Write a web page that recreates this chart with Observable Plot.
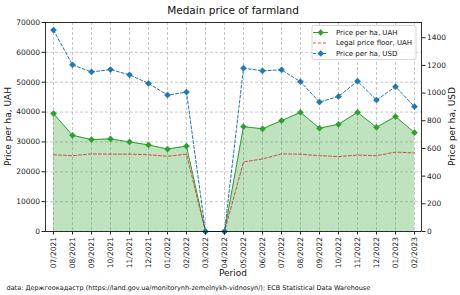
<!DOCTYPE html>
<html><head><meta charset="utf-8">
<script src="https://cdn.jsdelivr.net/npm/d3@7"></script>
<script src="https://cdn.jsdelivr.net/npm/@observablehq/plot@0.6"></script>
<style>
body{margin:0;background:#fff}
#c{position:relative;width:460px;height:295px}
#c svg{font-family:"DejaVu Sans",sans-serif}
#legend{position:absolute;left:0;top:0}
</style>
</head><body><div id="c"></div>
<script>
const periods = ["07/2021","08/2021","09/2021","10/2021","11/2021","12/2021","01/2022","02/2022","03/2022","04/2022","05/2022","06/2022","07/2022","08/2022","09/2022","10/2022","11/2022","12/2022","01/2023","02/2023"];
const priceUAH = [39500,32200,30800,31000,30000,29000,27600,28600,0,0,35100,34400,37100,39900,34600,35900,39900,34900,38500,33100];
const floorUAH = [25700,25400,26000,25900,25900,25700,25200,25900,0,0,23300,24300,26000,25900,25400,25100,25600,25400,26600,26300];
const priceUSD = [1455,1204,1153,1170,1132,1070,986,1007,0,0,1180,1161,1168,1082,935,976,1086,950,1046,902];
const uahTicks = [0,10000,20000,30000,40000,50000,60000,70000];
const usdTicks = [0,200,400,600,800,1000,1200,1400];
const title = "Medain price of farmland";
const xLabel = "Period";
const yLabelLeft = "Price per ha, UAH";
const yLabelRight = "Price per ha, USD";
const caption = "data: Держгеокадастр (https://land.gov.ua/monitorynh-zemelnykh-vidnosyn/); ECB Statistical Data Warehouse";
const legendLabels = ["Price per ha, UAH", "Legal price floor, UAH", "Price per ha, USD"];

const UAH_MAX = 70000, USD_MAX = 1510;
const k = UAH_MAX / USD_MAX;
const rows = periods.map((p, i) => ({period: p, uah: priceUAH[i], floor: floorUAH[i], usd: priceUSD[i] * k}));

const GREEN = "#2ca02c", BLUE = "#1f77b4", RED = "#d62728";

const chart = Plot.plot({
  width: 460, height: 295,
  marginTop: 22, marginBottom: 64, marginLeft: 45, marginRight: 39,
  style: {fontFamily: "DejaVu Sans", background: "#fff", color: "#222"},
  x: {type: "point", domain: periods, padding: 0, label: null},
  y: {domain: [0, UAH_MAX], label: null},
  marks: [
    Plot.gridX(periods, {stroke: "#b0b0b0", strokeOpacity: 0.7, strokeDasharray: "3,2"}),
    Plot.gridY(uahTicks, {stroke: "#b0b0b0", strokeOpacity: 0.7, strokeDasharray: "3,2"}),
    Plot.areaY(rows, {x: "period", y: "uah", fill: GREEN, fillOpacity: 0.3}),
    Plot.lineY(rows, {x: "period", y: "uah", stroke: GREEN, strokeWidth: 1}),
    Plot.lineY(rows, {x: "period", y: "floor", stroke: RED, strokeWidth: 1, strokeDasharray: "3,2", strokeOpacity: 0.8}),
    Plot.lineY(rows, {x: "period", y: "usd", stroke: BLUE, strokeWidth: 1, strokeDasharray: "3,2"}),
    Plot.dot(rows, {x: "period", y: "uah", symbol: "diamond2", r: 2.8, fill: GREEN, stroke: GREEN, strokeWidth: 0.4}),
    Plot.dot(rows, {x: "period", y: "usd", symbol: "diamond2", r: 2.8, fill: BLUE, stroke: BLUE, strokeWidth: 0.4}),
    Plot.frame({stroke: "#000", strokeWidth: 0.8}),
    Plot.axisX(periods, {tickRotate: -90, tickSize: 3.5, tickPadding: 2, fontSize: 7.5, label: null}),
    Plot.axisY(uahTicks, {anchor: "left", tickSize: 3.5, tickPadding: 2, fontSize: 7.5, tickFormat: d3.format("d"), label: null}),
    Plot.axisY(usdTicks, {anchor: "right", y: d => d * k, text: d => String(d), tickSize: 3.5, tickPadding: 2, fontSize: 7.5, label: null})
  ]
});
const c = document.getElementById("c");
c.appendChild(chart);

// overlay: titles, labels, caption, legend
const ov = d3.select(c).append("svg").attr("id", "legend").attr("width", 460).attr("height", 295)
  .style("font-family", "DejaVu Sans").style("pointer-events", "none");
const txt = (s, x, y, size, anchor, rot) => {
  const t = ov.append("text").attr("font-size", size).attr("fill", "#111")
    .attr("text-anchor", anchor).attr("dy", "0.35em").text(s);
  if (rot) t.attr("transform", `translate(${x},${y}) rotate(${rot})`);
  else t.attr("x", x).attr("y", y);
};
txt(title, 233, 10, 10.5, "middle");
txt(yLabelLeft, 8, 126.5, 9, "middle", -90);
txt(yLabelRight, 452, 126.5, 9, "middle", -90);
txt(xLabel, 233, 273, 9, "middle");
txt(caption, 6.5, 288, 6.5, "start");

ov.append("rect").attr("x", 312).attr("y", 25.5).attr("width", 104).attr("height", 34).attr("rx", 2)
  .attr("fill", "#fff").attr("fill-opacity", 0.85).attr("stroke", "#ccc").attr("stroke-width", 0.8);
const styles = [
  {color: GREEN, dash: null, marker: true},
  {color: RED, dash: "3,2", marker: false},
  {color: BLUE, dash: "3,2", marker: true}
];
legendLabels.forEach((label, i) => {
  const st = styles[i];
  const y = 32.5 + i * 10.5;
  ov.append("line").attr("x1", 313).attr("x2", 328).attr("y1", y).attr("y2", y)
    .attr("stroke", st.color).attr("stroke-width", 1).attr("stroke-dasharray", st.dash).attr("stroke-opacity", st.marker ? 1 : 0.8);
  if (st.marker) ov.append("path").attr("d", d3.symbol(d3.symbolDiamond2, 26)()).attr("transform", `translate(320.7,${y})`).attr("fill", st.color);
  txt(label, 336, y, 7, "start");
});
</script>
</body></html>
